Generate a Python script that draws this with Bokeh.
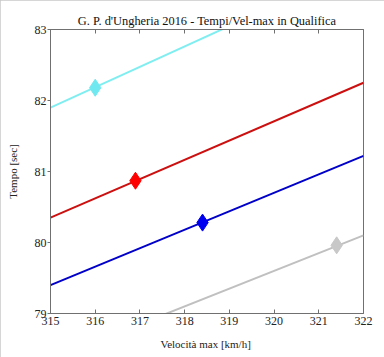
from bokeh.plotting import figure
from bokeh.models import LinearAxis, Range1d, FixedTicker
from bokeh.embed import file_html
from bokeh.resources import INLINE

# ---- data ----
line_x = [315, 322]
cyan_line = [81.90, 83.91]
red_line = [80.35, 82.25]
blue_line = [79.40, 81.22]
gray_line = [78.35, 80.10]

mark_x = [316.0, 316.9, 318.4, 321.4]
mark_y = [82.18, 80.87, 80.28, 79.96]

line_colors = ["#80eef0", "#cc1010", "#0000c8", "#c0c0c0"]
mark_colors = ["#70e8f0", "#ff0000", "#0000f0", "#c8c8c8"]

x_ticks = [315, 316, 317, 318, 319, 320, 321, 322]
y_ticks = [79, 80, 81, 82, 83]

FONT = "Liberation Serif"

p = figure(width=384, height=357, output_backend="svg", toolbar_location=None,
           x_range=Range1d(315, 322), y_range=Range1d(79, 83),
           min_border_left=50, min_border_right=21, min_border_top=29, min_border_bottom=44,
           x_axis_location=None, y_axis_location=None,
           title="G. P. d'Ungheria 2016 - Tempi/Vel-max in Qualifica")
p.styles = {"outline": "4px solid #c8c8c8", "outline-offset": "-4px"}

p.title.text_font = FONT
p.title.text_font_size = "12.4px"
p.title.text_font_style = "normal"
p.title.text_color = "#111111"
p.title.align = "center"
p.title.standoff = 4
p.title.offset = 0

p.background_fill_color = "white"
p.border_fill_color = "white"
p.outline_line_color = "#707070"
p.outline_line_width = 1
p.xgrid.visible = False
p.ygrid.visible = False

AX = "#707070"

xb = LinearAxis(ticker=FixedTicker(ticks=x_ticks), axis_label="Velocità max  [km/h]")
xb.axis_line_color = AX
xb.major_tick_line_color = AX
xb.major_tick_in = 4
xb.major_tick_out = 0
xb.minor_tick_line_color = None
xb.major_label_text_font = FONT
xb.major_label_text_font_size = "12px"
xb.major_label_text_color = "#222222"
xb.major_label_standoff = 3
xb.axis_label_text_font = FONT
xb.axis_label_text_font_size = "11px"
xb.axis_label_text_font_style = "normal"
xb.axis_label_text_color = "#222222"
xb.axis_label_standoff = 10
p.add_layout(xb, "below")

xt = LinearAxis(ticker=FixedTicker(ticks=x_ticks))
xt.axis_line_color = AX
xt.major_tick_line_color = AX
xt.major_tick_in = 4
xt.major_tick_out = 0
xt.minor_tick_line_color = None
xt.major_label_text_font_size = "0px"
xt.major_label_text_color = None
p.add_layout(xt, "above")

yl = LinearAxis(ticker=FixedTicker(ticks=y_ticks), axis_label="Tempo [sec]")
yl.axis_line_color = AX
yl.major_tick_line_color = AX
yl.major_tick_in = 0
yl.major_tick_out = 3
yl.minor_tick_line_color = None
yl.major_label_text_font = FONT
yl.major_label_text_font_size = "12px"
yl.major_label_text_color = "#222222"
yl.major_label_standoff = 1
yl.axis_label_text_font = FONT
yl.axis_label_text_font_size = "11px"
yl.axis_label_text_font_style = "normal"
yl.axis_label_text_color = "#222222"
yl.axis_label_standoff = 13
p.add_layout(yl, "left")

for ly, lc in zip([cyan_line, red_line, blue_line, gray_line], line_colors):
    p.line(line_x, ly, line_color=lc, line_width=2)

p.scatter(mark_x, mark_y, marker="diamond", size=17, fill_color=mark_colors,
          line_color=mark_colors)

open("out.html", "w").write(file_html(p, INLINE))
